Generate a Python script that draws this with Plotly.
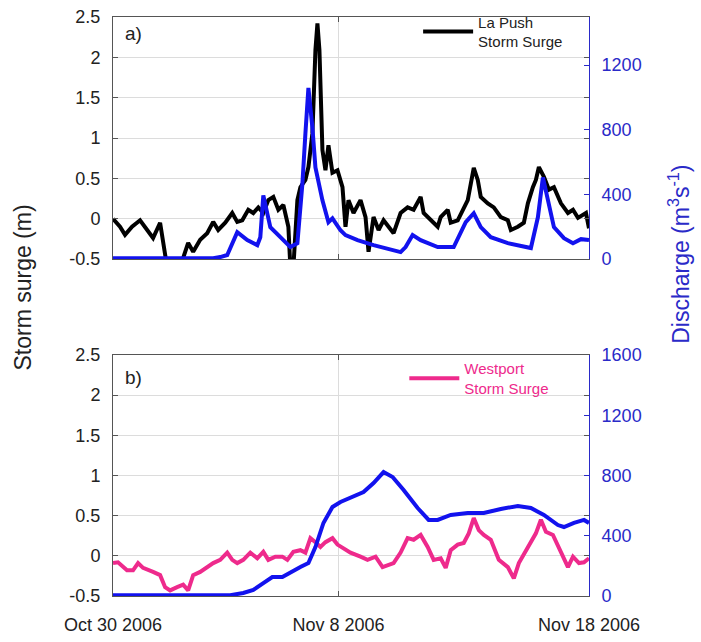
import pandas as pd
import plotly.graph_objects as go

START = "2006-10-30"

# ---- Panel a) La Push storm surge (m); time in days since Oct 30 2006 ----
lapush_days = [0.00, 0.28, 0.48, 0.76, 1.08, 1.36, 1.60, 1.88, 2.08, 2.16, 2.68, 2.80, 2.96, 3.00,
               3.20, 3.48, 3.76, 4.00, 4.20, 4.48, 4.76, 4.96, 5.16, 5.40, 5.60, 5.80, 6.00, 6.20,
               6.40, 6.60, 6.80, 7.00, 7.08, 7.20, 7.36, 7.48, 7.68, 7.80, 7.96, 8.08, 8.16, 8.24,
               8.36, 8.48, 8.60, 8.76, 8.96, 9.16, 9.28, 9.40, 9.60, 9.88, 10.08, 10.20, 10.40,
               10.60, 10.80, 11.20, 11.48, 11.76, 12.00, 12.28, 12.40, 12.68, 12.96, 13.08, 13.36,
               13.48, 13.76, 14.16, 14.40, 14.56, 14.68, 14.96, 15.20, 15.48, 15.76, 15.88, 16.16,
               16.40, 16.56, 16.76, 16.88, 17.00, 17.20, 17.40, 17.60, 17.88, 18.16, 18.36, 18.56,
               18.88, 19.00]
lapush_surge = [0.00, -0.10, -0.20, -0.10, -0.02, -0.14, -0.24, -0.05, -0.48, -0.60, -0.60, -0.49,
                -0.33, -0.30, -0.41, -0.26, -0.18, -0.04, -0.14, -0.05, 0.07, -0.04, -0.02, 0.11,
                0.07, 0.14, 0.07, 0.23, 0.27, 0.11, 0.17, -0.10, -0.60, -0.60, 0.23, 0.39, 0.48,
                0.64, 1.06, 2.09, 2.42, 2.09, 0.85, 0.60, 0.91, 0.57, 0.60, 0.39, -0.10, 0.23, 0.07,
                0.23, 0.02, -0.41, 0.02, -0.14, -0.02, -0.18, 0.07, 0.14, 0.11, 0.27, 0.07, -0.02,
                -0.10, 0.02, 0.11, -0.05, -0.02, 0.23, 0.63, 0.48, 0.27, 0.19, 0.14, 0.02, -0.02,
                -0.14, -0.10, -0.05, 0.19, 0.39, 0.48, 0.64, 0.52, 0.36, 0.39, 0.19, 0.07, 0.11,
                0.01, 0.07, -0.12]

# ---- Panel a) river discharge (m3/s) ----
qa_days = [0.00, 4.00, 4.28, 4.56, 4.96, 5.36, 5.76, 5.88, 6.00, 6.16, 6.28, 6.68, 7.08, 7.36,
           7.56, 7.68, 7.80, 7.96, 8.08, 8.36, 8.60, 8.76, 9.08, 9.28, 9.76, 10.40, 11.48, 11.68,
           11.96, 12.28, 12.96, 13.60, 14.08, 14.40, 14.68, 15.08, 15.76, 16.68, 16.96, 17.16,
           17.36, 17.60, 18.00, 18.36, 18.68, 19.00]
qa_flow = [5, 5, 12, 25, 166, 117, 86, 135, 394, 283, 197, 135, 74, 98, 467, 775, 1058, 812, 566,
           363, 228, 252, 178, 148, 117, 86, 43, 74, 148, 117, 74, 74, 228, 283, 197, 135, 98, 68,
           258, 505, 363, 197, 129, 98, 123, 117]

# ---- Panel b) Westport storm surge (m) ----
westport_days = [0.00, 0.20, 0.56, 0.80, 1.00, 1.20, 1.60, 1.88, 2.08, 2.28, 2.56, 2.80, 3.00,
                 3.20, 3.48, 3.76, 4.00, 4.28, 4.56, 4.76, 4.96, 5.20, 5.48, 5.76, 6.00, 6.20,
                 6.48, 6.76, 6.96, 7.20, 7.48, 7.68, 7.88, 8.08, 8.28, 8.48, 8.76, 8.96, 9.20,
                 9.48, 9.88, 10.16, 10.48, 10.76, 11.20, 11.48, 11.76, 12.00, 12.28, 12.56, 12.80,
                 13.08, 13.28, 13.48, 13.76, 14.00, 14.20, 14.40, 14.60, 14.80, 15.08, 15.40,
                 15.76, 16.00, 16.20, 16.48, 16.68, 16.88, 17.08, 17.28, 17.56, 17.80, 18.16,
                 18.36, 18.60, 18.80, 19.00]
westport_surge = [-0.09, -0.08, -0.18, -0.18, -0.09, -0.15, -0.20, -0.24, -0.39, -0.43, -0.39,
                  -0.36, -0.43, -0.24, -0.20, -0.14, -0.09, -0.05, 0.04, -0.05, -0.09, -0.05, 0.04,
                  -0.03, 0.05, -0.05, -0.01, -0.01, -0.05, 0.05, 0.07, 0.04, 0.22, 0.17, 0.11,
                  0.17, 0.22, 0.14, 0.10, 0.04, -0.01, -0.05, -0.01, -0.14, -0.09, 0.04, 0.22,
                  0.20, 0.26, 0.11, -0.05, -0.03, -0.15, 0.07, 0.14, 0.16, 0.28, 0.47, 0.32, 0.26,
                  0.20, -0.05, -0.14, -0.28, -0.09, 0.07, 0.16, 0.28, 0.45, 0.30, 0.26, 0.11,
                  -0.14, -0.01, -0.09, -0.08, -0.03]

# ---- Panel b) river discharge (m3/s) ----
qb_days = [0.00, 4.68, 5.20, 5.60, 6.00, 6.36, 6.76, 7.08, 7.48, 7.80, 8.08, 8.40, 8.76, 9.08,
           9.48, 10.00, 10.40, 10.80, 11.16, 11.60, 12.16, 12.60, 12.96, 13.48, 14.16, 14.80,
           15.48, 16.16, 16.68, 17.20, 17.76, 18.00, 18.40, 18.80, 19.00]
qb_flow = [5, 5, 20, 40, 86, 126, 126, 159, 193, 219, 325, 485, 591, 624, 651, 690, 750, 823, 790,
           704, 584, 505, 505, 538, 551, 551, 578, 598, 584, 538, 471, 458, 485, 505, 485]

# ---- axis ticks ----
surge_ticks = [-0.5, 0, 0.5, 1, 1.5, 2, 2.5]
surge_ticktext = ["-0.5", "0", "0.5", "1", "1.5", "2", "2.5"]
qa_ticks = [0, 400, 800, 1200]
qb_ticks = [0, 400, 800, 1200, 1600]
date_ticks = ["2006-10-30", "2006-11-08", "2006-11-18"]
date_ticktext = ["Oct 30 2006", "Nov 8 2006", "Nov 18 2006"]


def to_time(days):
    return pd.Timestamp(START) + pd.to_timedelta(days, unit="D")


BLACK = "#000000"
BLUE = "#1212ee"
PINK = "#ee2a8c"
AXBLUE = "#2a2ac8"
GRID = "#dcdcdc"
FONT = "Liberation Sans, Arial, sans-serif"

fig = go.Figure()
fig.add_trace(go.Scatter(x=to_time(lapush_days), y=lapush_surge, mode="lines",
                         line=dict(color=BLACK, width=4), name="La Push<br>Storm Surge",
                         xaxis="x", yaxis="y", legend="legend"))
fig.add_trace(go.Scatter(x=to_time(qa_days), y=qa_flow, mode="lines",
                         line=dict(color=BLUE, width=4), showlegend=False,
                         xaxis="x", yaxis="y2"))
fig.add_trace(go.Scatter(x=to_time(westport_days), y=westport_surge, mode="lines",
                         line=dict(color=PINK, width=4), name="Westport<br>Storm Surge",
                         xaxis="x2", yaxis="y3", legend="legend2"))
fig.add_trace(go.Scatter(x=to_time(qb_days), y=qb_flow, mode="lines",
                         line=dict(color=BLUE, width=4), showlegend=False,
                         xaxis="x2", yaxis="y4"))

TOP = [0.582, 1.0]
BOT = [0.0, 0.4162]
xr = ["2006-10-30", "2006-11-18"]

xcommon = dict(range=xr, type="date", tickvals=date_ticks, ticktext=date_ticktext,
               showgrid=True, gridcolor=GRID, gridwidth=1, showline=True, linecolor="#555555",
               linewidth=1, mirror="ticks", ticks="inside", ticklen=5, tickcolor="#555555",
               tickfont=dict(family=FONT, size=18, color="#222222"), zeroline=False,
               ticklabelstandoff=12, automargin=False)
ycommon = dict(range=[-0.5, 2.5], tickvals=surge_ticks, ticktext=surge_ticktext,
               showgrid=True, gridcolor=GRID, gridwidth=1, showline=True, linecolor="#555555",
               linewidth=1, ticks="inside", ticklen=5, tickcolor="#555555", mirror="ticks",
               tickfont=dict(family=FONT, size=18, color="#222222"), zeroline=False,
               ticklabelstandoff=8, automargin=False)
qcommon = dict(showgrid=False, showline=True, linecolor=AXBLUE, linewidth=1, ticks="inside",
               ticklen=5, tickcolor=AXBLUE, side="right",
               tickfont=dict(family=FONT, size=18, color=AXBLUE), zeroline=False,
               ticklabelstandoff=8, automargin=False)

fig.update_layout(
    width=701, height=642,
    margin=dict(l=113, r=112, t=17, b=46, autoexpand=False),
    paper_bgcolor="white", plot_bgcolor="white",
    xaxis=dict(domain=[0, 1], anchor="y", showticklabels=False, **xcommon),
    yaxis=dict(domain=TOP, anchor="x", **ycommon),
    yaxis2=dict(overlaying="y", anchor="x", range=[0, 1497], tickvals=qa_ticks, **qcommon),
    xaxis2=dict(domain=[0, 1], anchor="y3", **xcommon),
    yaxis3=dict(domain=BOT, anchor="x2", **ycommon),
    yaxis4=dict(overlaying="y3", anchor="x2", range=[0, 1600], tickvals=qb_ticks, **qcommon),
    legend=dict(x=0.641, y=1.02, xanchor="left", yanchor="top", bgcolor="rgba(0,0,0,0)",
                font=dict(family=FONT, size=15, color="#222222"), itemwidth=50,
                tracegroupgap=0),
    legend2=dict(x=0.612, y=0.421, xanchor="left", yanchor="top", bgcolor="rgba(0,0,0,0)",
                 font=dict(family=FONT, size=15, color=PINK), itemwidth=50,
                 tracegroupgap=0),
    annotations=[
        dict(text="a)", xref="x domain", yref="y domain", x=0.022, y=0.93, showarrow=False,
             xanchor="left", yanchor="middle", font=dict(family=FONT, size=19, color="#222222")),
        dict(text="b)", xref="x2 domain", yref="y3 domain", x=0.022, y=0.905, showarrow=False,
             xanchor="left", yanchor="middle", font=dict(family=FONT, size=19, color="#222222")),
        dict(text="Storm surge (m)", xref="paper", yref="paper", x=-0.19, y=0.532,
             showarrow=False, textangle=-90, xanchor="center", yanchor="middle",
             font=dict(family=FONT, size=23, color="#222222")),
        dict(text="Discharge (m<sup>3</sup>s<sup>-1</sup>)", xref="paper", yref="paper",
             x=1.19, y=0.59, showarrow=False, textangle=-90, xanchor="center",
             yanchor="middle", font=dict(family=FONT, size=23, color=AXBLUE)),
    ],
)

fig.write_html("out.html")
